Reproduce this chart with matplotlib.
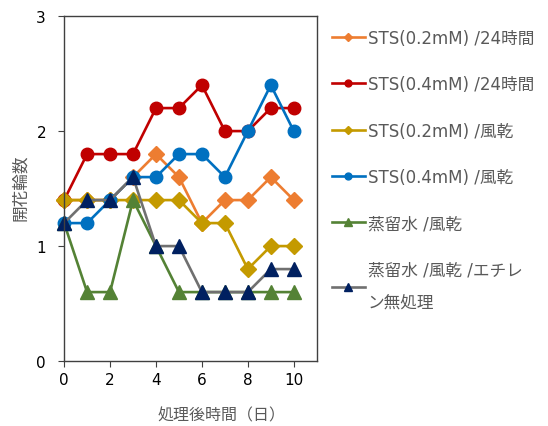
import matplotlib
matplotlib.use("Agg")
import matplotlib.pyplot as plt

plt.rcParams['font.family'] = ['DejaVu Sans', 'Noto Sans CJK JP']

# 処理後日数
days = [0, 1, 2, 3, 4, 5, 6, 7, 8, 9, 10]

sts02_24h = [1.4, 1.4, 1.4, 1.6, 1.8, 1.6, 1.2, 1.4, 1.4, 1.6, 1.4]
sts04_24h = [1.4, 1.8, 1.8, 1.8, 2.2, 2.2, 2.4, 2.0, 2.0, 2.2, 2.2]
sts02_dry = [1.4, 1.4, 1.4, 1.4, 1.4, 1.4, 1.2, 1.2, 0.8, 1.0, 1.0]
sts04_dry = [1.2, 1.2, 1.4, 1.6, 1.6, 1.8, 1.8, 1.6, 2.0, 2.4, 2.0]
water_dry = [1.2, 0.6, 0.6, 1.4, 1.0, 0.6, 0.6, 0.6, 0.6, 0.6, 0.6]
water_dry_noeth = [1.2, 1.4, 1.4, 1.6, 1.0, 1.0, 0.6, 0.6, 0.6, 0.8, 0.8]

labels = [
    'STS(0.2mM) /24時間',
    'STS(0.4mM) /24時間',
    'STS(0.2mM) /風乾',
    'STS(0.4mM) /風乾',
    '蒸留水 /風乾',
    '蒸留水 /風乾 /エチレ\nン無処理',
]

fig = plt.figure(figsize=(5.48, 4.27), dpi=100)
ax = fig.add_axes([0.117, 0.152, 0.461, 0.808])

series = [
    (sts02_24h, '#ED7D31', '#ED7D31', 'D', 8),
    (sts04_24h, '#C00000', '#C00000', 'o', 9),
    (sts02_dry, '#C49A00', '#C49A00', 'D', 8),
    (sts04_dry, '#0070C0', '#0070C0', 'o', 9),
    (water_dry, '#548235', '#548235', '^', 10),
    (water_dry_noeth, '#707070', '#002060', '^', 10),
]

handles = []
for (vals, lc, mc, mk, ms), lab in zip(series, labels):
    h, = ax.plot(days, vals, color=lc, lw=1.9, marker=mk, ms=ms,
                 markerfacecolor=mc, markeredgecolor=mc, clip_on=False, label=lab)
    handles.append(h)

ax.set_xlim(0, 11)
ax.set_ylim(0, 3)
ax.set_xticks([0, 2, 4, 6, 8, 10])
ax.set_yticks([0, 1, 2, 3])
ax.tick_params(labelsize=11, length=4, color='#404040')
ax.tick_params(axis='y', pad=9)
for s in ax.spines.values():
    s.set_color('#404040')
    s.set_linewidth(1.0)

ax.set_xlabel('処理後時間（日）', fontsize=11.5, color='#595959')
ax.xaxis.set_label_coords(0.625, -0.133)
ax.set_ylabel('開花輪数', fontsize=12, color='#595959')
ax.yaxis.set_label_coords(-0.14, 0.505)

leg = fig.legend(handles=handles, loc='upper left', bbox_to_anchor=(0.578, 0.965),
                 frameon=False, fontsize=12, labelspacing=1.7, handlelength=2.0,
                 handletextpad=0.15, markerscale=0.55, labelcolor='#595959')
for t in leg.get_texts():
    t.set_linespacing(2.0)

fig.savefig('out.png', dpi=100)
